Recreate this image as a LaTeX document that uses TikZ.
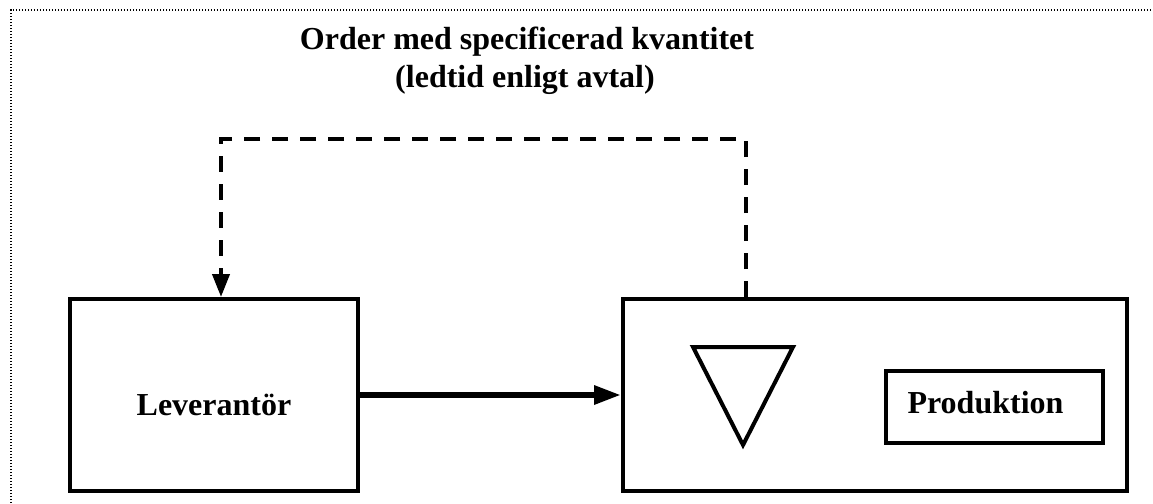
\documentclass[tikz,border=0pt]{standalone}
\usepackage{fontspec}
\setmainfont{Liberation Serif}
\usetikzlibrary{arrows.meta}
\begin{document}
\begin{tikzpicture}[x=1pt,y=-1pt,
  box/.style={draw, line width=4pt, inner sep=0pt},
  lbl/.style={font=\bfseries\fontsize{32}{37}\selectfont, anchor=base, inner sep=0pt},
  flow/.style={line width=6pt, -{Triangle[length=27pt,width=18pt]}},
  orderflow/.style={line width=4pt, dash pattern=on 16pt off 12pt, -{Triangle[length=23pt,width=17pt]}},
  frame/.style={line width=1.2pt, dash pattern=on 1.2pt off 1.8pt}]
  \useasboundingbox (0,0) rectangle (1153,503);
  % dotted frame round the sheet
  \coordinate (fbl) at (11,503);
  \coordinate (ftl) at (11,10);
  \coordinate (ftr) at (1153,10);
  \draw[frame] (fbl) -- (ftl) -- (ftr);
  % heading
  \node[lbl] (title1) at (527,50) {Order med specificerad kvantitet};
  \node[lbl] (title2) at (525,87) {(ledtid enligt avtal)};
  % supplier
  \node[box, minimum width=288pt, minimum height=192pt] (lev) at (214,395) {};
  \node[lbl] (levtext) at (214,415) {Leverantör};
  % receiving plant with stock and production
  \node[box, minimum width=504pt, minimum height=192pt] (plant) at (875,395) {};
  \node[box, minimum width=217pt, minimum height=72pt] (prod) at (994.5,407) {};
  \node[lbl] (prodtext) at (985.5,413) {Produktion};
  \draw[line width=4pt, line join=miter] (693,347) -- (793,347) -- (743,445) -- cycle;
  % material flow
  \draw[flow] (lev) -- (plant);
  % order flow back to the supplier
  \coordinate (otr) at (746,139);
  \coordinate (otl) at (221,139);
  \draw[orderflow] (plant.north -| otr) -- (otr) -- (otl) -- (lev.north -| otl);
\end{tikzpicture}
\end{document}
